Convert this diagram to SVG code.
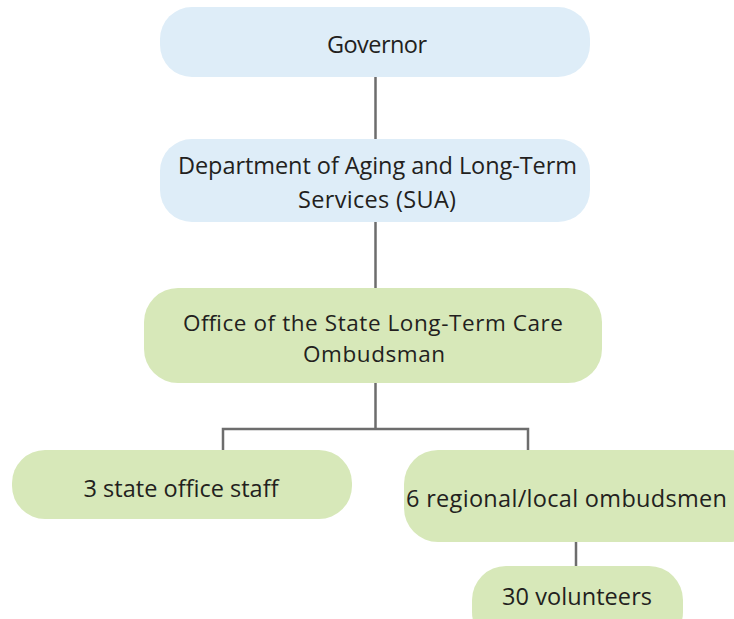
<svg xmlns="http://www.w3.org/2000/svg" width="734" height="619" viewBox="0 0 734 619">
<style>
.blue{fill:#deedf8}
.green{fill:#d7e8b9}
.t{font-family:"Open Sans","Noto Sans",sans-serif;font-size:23.5px;fill:#231f20;text-anchor:middle}
.s{font-size:22.5px}
.c{stroke:#6d6d6d;stroke-width:2.5;fill:none}
</style>
<rect width="734" height="619" fill="#ffffff"/>
<g id="connectors">
<path class="c" d="M375.5 77V139M375.5 222V288M375.5 383V429M223 450V429H528V450M576 542V566"/>
</g>
<g id="governor">
<rect class="blue" x="160" y="7" width="430" height="70" rx="32"/>
<text class="t" x="377" y="53" textLength="100">Governor</text>
</g>
<g id="department">
<rect class="blue" x="160" y="139" width="430" height="83" rx="32"/>
<text class="t" x="377.5" y="174" textLength="399">Department of Aging and Long-Term</text>
<text class="t" x="377" y="208" textLength="158">Services (SUA)</text>
</g>
<g id="office">
<rect class="green" x="144" y="288" width="458" height="95" rx="34"/>
<text class="t s" x="373" y="331" textLength="380">Office of the State Long-Term Care</text>
<text class="t s" x="374" y="362" textLength="142">Ombudsman</text>
</g>
<g id="state-staff">
<rect class="green" x="12" y="450" width="340" height="69" rx="33"/>
<text class="t" x="181" y="497" textLength="195">3 state office staff</text>
</g>
<g id="regional">
<rect class="green" x="404" y="450" width="360" height="92" rx="34"/>
<text class="t" x="406" y="507" style="text-anchor:start" textLength="321">6 regional/local ombudsmen</text>
</g>
<g id="volunteers">
<rect class="green" x="472" y="566" width="211" height="80" rx="34"/>
<text class="t" x="577" y="605" textLength="150">30 volunteers</text>
</g>
</svg>
